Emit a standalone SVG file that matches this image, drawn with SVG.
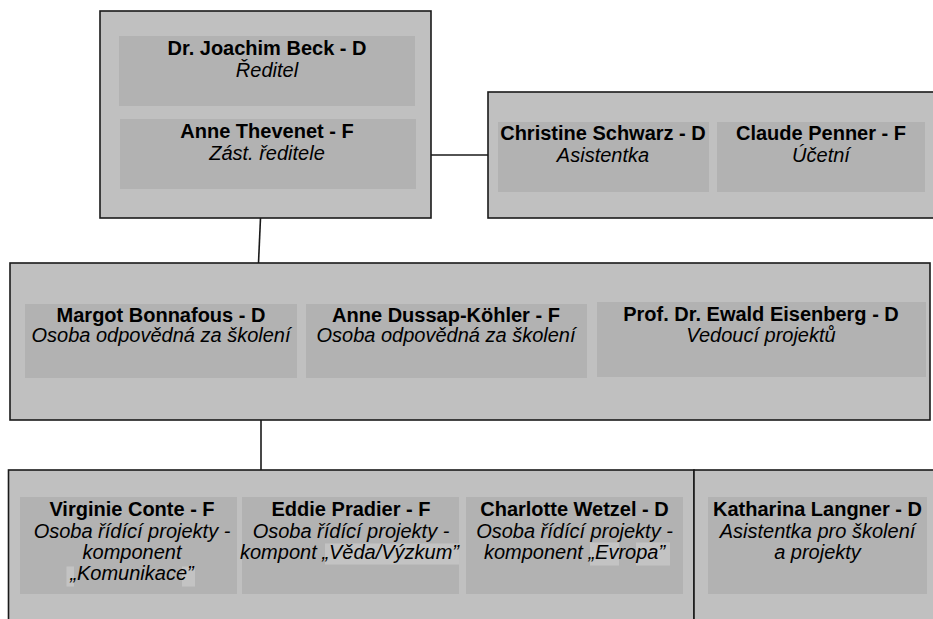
<svg xmlns="http://www.w3.org/2000/svg" width="933" height="619" viewBox="0 0 933 619">
<style>
.outer{fill:#c0c0c0;stroke:#1a1a1a;stroke-width:1.6}
.inner{fill:#b2b2b2}
.hl{fill:#c3c3c3}
.b{font-family:"Liberation Sans",Arial,sans-serif;font-size:20px;font-weight:bold;fill:#000;text-anchor:middle}
.i{font-family:"Liberation Sans",Arial,sans-serif;font-size:20px;font-style:italic;fill:#000;text-anchor:middle}
.con{stroke:#1a1a1a;stroke-width:1.6;fill:none}
</style>
<rect width="933" height="619" fill="#fff"/>
<g id="connectors">
<line class="con" x1="431" y1="155" x2="488" y2="155"/>
<line class="con" x1="260.5" y1="218" x2="258.5" y2="263"/>
<line class="con" x1="261" y1="420" x2="261" y2="470"/>
</g>
<g id="vedeni">
<rect class="outer" x="100" y="11" width="331" height="207"/>
</g>
<g id="beck">
<rect class="inner" x="119" y="36" width="296" height="70"/>
<text class="b" x="267" y="54.5">Dr. Joachim Beck - D</text>
<text class="i" x="267" y="76.5">Ředitel</text>
</g>
<g id="thevenet">
<rect class="inner" x="120" y="119" width="296" height="70"/>
<text class="b" x="267" y="137.5">Anne Thevenet - F</text>
<text class="i" x="267" y="159.5">Zást. ředitele</text>
</g>
<g id="sekretariat">
<rect class="outer" x="488" y="92" width="455" height="126"/>
</g>
<g id="schwarz">
<rect class="inner" x="498" y="122" width="211" height="70"/>
<text class="b" x="603" y="139.5">Christine Schwarz - D</text>
<text class="i" x="603" y="162">Asistentka</text>
</g>
<g id="penner">
<rect class="inner" x="717" y="122" width="208" height="70"/>
<text class="b" x="821" y="139.5">Claude Penner - F</text>
<text class="i" x="821" y="162">Účetní</text>
</g>
<g id="skoleni">
<rect class="outer" x="10" y="263" width="920" height="157"/>
</g>
<g id="bonnafous">
<rect class="inner" x="25" y="304" width="272" height="74"/>
<text class="b" x="161" y="321.5">Margot Bonnafous - D</text>
<text class="i" x="161" y="342">Osoba odpovědná za školení</text>
</g>
<g id="dussap">
<rect class="inner" x="306" y="304" width="281" height="74"/>
<text class="b" x="446" y="321.5">Anne Dussap-Köhler - F</text>
<text class="i" x="446" y="342">Osoba odpovědná za školení</text>
</g>
<g id="eisenberg">
<rect class="inner" x="597" y="302" width="329" height="75"/>
<text class="b" x="761" y="321">Prof. Dr. Ewald Eisenberg - D</text>
<text class="i" x="761" y="342">Vedoucí projektů</text>
</g>
<g id="projekty">
<rect class="outer" x="8.5" y="470" width="685.5" height="170"/>
</g>
<g id="asistence">
<rect class="outer" x="694" y="470" width="260" height="170"/>
</g>
<g id="conte">
<rect class="inner" x="20" y="497" width="217" height="97"/>
<rect class="hl" x="66.5" y="566.5" width="7.5" height="20"/>
<rect class="hl" x="182" y="566.5" width="13" height="20"/>
<text class="b" x="132" y="516">Virginie Conte - F</text>
<text class="i" x="132" y="537.5">Osoba řídící projekty -</text>
<text class="i" x="132" y="558.5">komponent</text>
<text class="i" x="132" y="579.5">„Komunikace”</text>
</g>
<g id="pradier">
<rect class="inner" x="242" y="497" width="217" height="97"/>
<rect class="hl" x="325" y="543.5" width="134" height="21"/>
<text class="b" x="351" y="516">Eddie Pradier - F</text>
<text class="i" x="351" y="537.5">Osoba řídící projekty -</text>
<text class="i" x="349.5" y="558.5">kompont „Věda/Výzkum”</text>
</g>
<g id="wetzel">
<rect class="inner" x="466" y="497" width="217" height="97"/>
<rect class="hl" x="590" y="542.5" width="29" height="23"/>
<rect class="hl" x="636" y="542.5" width="34" height="23"/>
<text class="b" x="574.5" y="516">Charlotte Wetzel - D</text>
<text class="i" x="574.5" y="537.5">Osoba řídící projekty -</text>
<text class="i" x="574.5" y="558.5">komponent „Evropa”</text>
</g>
<g id="langner">
<rect class="inner" x="708" y="497" width="219" height="97"/>
<text class="b" x="817.5" y="516">Katharina Langner - D</text>
<text class="i" x="817.5" y="537.5">Asistentka pro školení</text>
<text class="i" x="817.5" y="558.5">a projekty</text>
</g>
</svg>
